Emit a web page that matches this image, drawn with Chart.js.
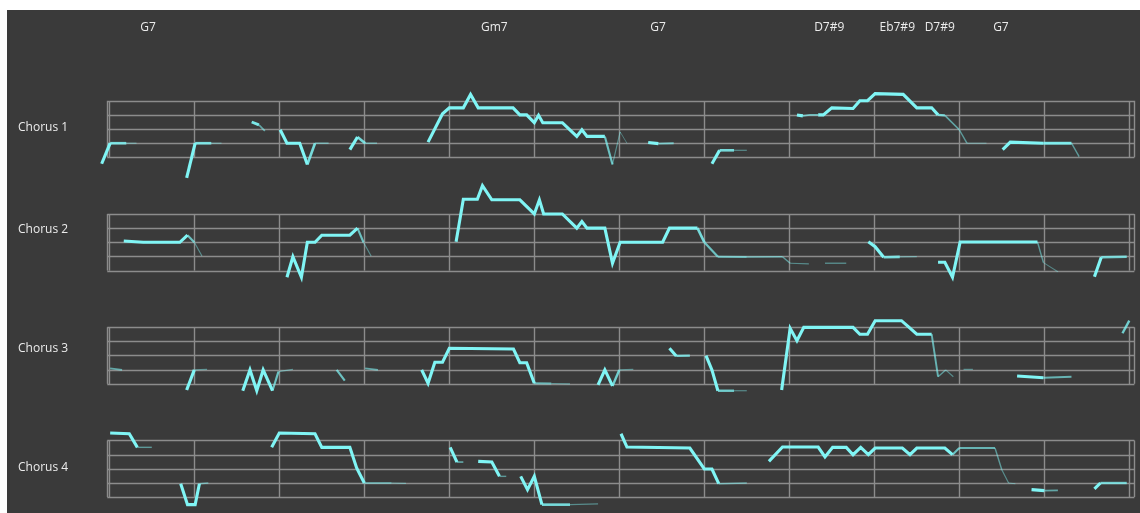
<!DOCTYPE html>
<html>
<head>
<meta charset="utf-8">
<script src="https://cdn.jsdelivr.net/npm/chart.js@4/dist/chart.umd.min.js"></script>
<style>
  html, body { margin: 0; background: #fff; }
  canvas { display: block; }
</style>
</head>
<body>
<canvas id="solo" width="1140" height="513"></canvas>
<script>
// Pitch contour of a 4-chorus solo, 12 bars per chorus.
// x = position in bars, y = pitch in staff steps above the bottom line, third value = loudness (0..1)
const rowNames = ['Chorus 1', 'Chorus 2', 'Chorus 3', 'Chorus 4'];
const chordNames = ['G7', 'Gm7', 'G7', 'D7#9', 'Eb7#9', 'D7#9', 'G7'];
const chordBars = [0.455, 4.53, 6.455, 8.47, 9.27, 9.77, 10.49];
const barCount = 12;
const staffSteps = [0, 1, 2, 3, 4];

const chorus1 = [
  [[-0.09,-0.45,1],[0.01,1,1],[0.2,1,0.8],[0.32,1,0.2]],
  [[0.91,-1.45,1],[1.01,1,1],[1.2,1,0.8],[1.32,1,0.2]],
  [[1.675,2.5,1],[1.76,2.3,0.9],[1.83,1.87,0.4]],
  [[2.01,1.95,1],[2.09,1,1],[2.24,1,1],[2.33,-0.5,1],[2.42,1,0.8],[2.58,1,0.3]],
  [[2.83,0.55,1],[2.92,1.44,1],[3.01,1,0.8],[3.15,1,0.3]],
  [[3.75,1.08,1],[3.92,3.08,1],[4.0,3.5,1],[4.165,3.5,1],[4.25,4.45,1],[4.34,3.5,1],[4.75,3.5,1],[4.83,3,1],[4.91,3,1],[5.0,2.45,1],[5.05,2.97,1],[5.1,2.45,1],[5.33,2.45,1],[5.5,1.48,1],[5.56,1.95,1],[5.62,1.48,1],[5.83,1.48,1],[5.92,-0.5,0.6],[6.01,1.8,0.2],[6.09,1,0.1]],
  [[6.34,1.05,1],[6.46,0.97,1],[6.64,1,0.5]],
  [[7.09,-0.45,1],[7.18,0.5,1],[7.35,0.5,0.8],[7.5,0.5,0.2]],
  [[8.09,3,1],[8.16,2.93,1],[8.24,3,0.5],[8.34,3,1],[8.4,3,1],[8.5,3.5,1],[8.75,3.45,1],[8.83,4,1],[8.92,4,1],[9.01,4.5,1],[9.34,4.45,1],[9.5,3.5,1],[9.675,3.5,1],[9.75,3,1],[9.83,2.97,0.7],[10.0,1.95,0.4],[10.09,1,0.3],[10.32,1,0.15]],
  [[10.51,0.55,1],[10.6,1.08,1],[10.99,1,1],[11.32,1,0.9],[11.41,0.05,0.3]]
];

const chorus2 = [
  [[0.17,2.09,1],[0.4,2,1],[0.83,2,1],[0.92,2.5,1],[1.0,2,0.6],[1.09,1.03,0.2]],
  [[2.09,-0.47,1],[2.16,0.98,1],[2.26,-0.47,1],[2.33,2,1],[2.42,2,1],[2.5,2.5,1],[2.83,2.5,1],[2.92,3,1],[2.99,2,0.6],[3.08,1.03,0.2]],
  [[4.08,2.04,1],[4.165,5.04,1],[4.33,5.04,1],[4.39,6,1],[4.5,5,1],[4.83,5,1],[5.0,4,1],[5.06,5,1],[5.11,4,1],[5.33,4,1],[5.5,3,1],[5.56,3.46,1],[5.62,3,1],[5.83,3,1],[5.92,0.52,1],[6.01,2,1],[6.51,2,1],[6.59,3,1],[6.92,3,1],[7.0,2,0.8],[7.16,0.98,0.6],[7.5,0.96,0.5],[7.92,0.98,0.4],[8.01,0.52,0.3],[8.23,0.47,0.2]],
  [[8.42,0.52,0.25],[8.67,0.52,0.25]],
  [[8.93,2.04,1],[9.01,1.69,1],[9.11,0.94,1],[9.3,0.97,0.8],[9.5,0.98,0.2]],
  [[9.75,0.59,1],[9.83,0.59,1],[9.92,-0.47,1],[10.01,2.02,1],[10.92,2.02,1],[10.99,0.56,0.3],[11.16,-0.08,0.15]],
  [[11.59,-0.43,1],[11.67,0.94,1],[11.97,0.98,0.7]]
];

const chorus3 = [
  [[0.01,1.09,1],[0.15,0.98,0.4]],
  [[0.91,-0.44,1],[1.0,0.98,1],[1.15,1.02,0.2]],
  [[1.57,-0.49,1],[1.655,0.98,1],[1.735,-0.49,1],[1.81,0.98,1],[1.92,-0.49,1],[1.99,0.86,0.6],[2.16,1.02,0.2]],
  [[2.675,0.98,1],[2.77,0.22,0.6]],
  [[3.01,1.09,1],[3.16,0.98,0.4]],
  [[3.675,0.98,1],[3.75,0.04,1],[3.83,1.52,1],[3.92,1.52,1],[4.0,2.51,1],[4.755,2.46,1],[4.83,1.49,1],[4.91,1.49,1],[5.0,0.04,1],[5.2,0.02,0.5],[5.42,0,0.2]],
  [[5.75,-0.08,1],[5.83,0.98,1],[5.92,-0.15,1],[6.0,0.98,0.7],[6.165,1.02,0.2]],
  [[6.59,2.51,1],[6.67,1.97,1],[6.83,1.99,0.7]],
  [[7.02,1.99,1],[7.09,0.98,1],[7.16,-0.49,1],[7.35,-0.49,0.7],[7.5,-0.49,0.2]],
  [[7.91,-0.44,1],[8.01,3.92,1],[8.09,3.05,1],[8.17,3.99,1],[8.75,3.99,1],[8.83,3.5,1],[8.92,3.5,1],[9.01,4.46,1],[9.32,4.46,1],[9.4,4.04,1],[9.5,3.5,1],[9.675,3.5,1],[9.75,0.5,0.5],[9.84,0.98,0.3],[9.93,0.5,0.2]],
  [[10.05,1.02,0.2],[10.16,1.02,0.2]],
  [[10.68,0.55,1],[10.99,0.43,1],[11.32,0.5,0.5]],
  [[11.92,3.57,1],[12.0,4.46,0.7]]
];

const chorus4 = [
  [[0.01,4.52,1],[0.235,4.47,1],[0.33,3.51,1],[0.5,3.51,0.3]],
  [[0.84,0.94,1],[0.92,-0.54,1],[1.01,-0.54,1],[1.06,0.94,1],[1.165,0.99,0.3]],
  [[1.91,3.51,1],[2.0,4.52,1],[2.42,4.47,1],[2.5,3.51,1],[2.83,3.51,1],[2.91,2.05,1],[3.0,0.99,1],[3.32,0.99,0.4],[3.49,0.96,0.2]],
  [[4.01,3.51,1],[4.09,2.47,1],[4.165,2.47,0.4]],
  [[4.34,2.52,1],[4.5,2.47,1],[4.59,1.46,1],[4.67,1.46,0.3]],
  [[4.84,1.46,1],[4.92,0.52,1],[5.0,1.46,1],[5.09,-0.54,1],[5.42,-0.54,0.8],[5.75,-0.49,0.2]],
  [[6.02,4.47,1],[6.09,3.53,1],[6.83,3.46,1],[7.0,1.98,1],[7.09,1.98,1],[7.17,0.94,1],[7.5,0.99,0.3]],
  [[7.76,2.52,1],[7.92,3.53,1],[8.34,3.53,1],[8.42,2.83,1],[8.51,3.51,1],[8.67,3.51,1],[8.75,2.99,1],[8.84,3.51,1],[8.93,2.99,1],[9.01,3.46,1],[9.33,3.46,1],[9.42,2.99,1],[9.5,3.46,1],[9.83,3.46,1],[9.92,2.99,1],[10.0,3.46,0.6],[10.42,3.46,0.5],[10.5,1.93,0.3],[10.58,0.99,0.2],[10.66,0.94,0.15]],
  [[10.85,0.52,1],[11.0,0.45,1],[11.16,0.47,0.4]],
  [[11.59,0.57,1],[11.66,0.99,1],[11.97,0.99,0.7]]
];

const choruses = [chorus1, chorus2, chorus3, chorus4];

// each chorus row sits 8 staff steps below the previous one
const ROW = 8;
const rowBase = i => (rowNames.length - 1 - i) * ROW;
const rowLabelStep = [2.1, 2.9, 2.5, 2.05];

function segWidth(a, b) { return 0.7 + 2.4 * Math.min(a, b); }
function segColor(a, b) {
  const l = Math.min(a, b);
  return `rgba(128,245,245,${(0.3 + 0.7 * l).toFixed(2)})`;
}

const datasets = [];
choruses.forEach((phrases, i) => {
  phrases.forEach(ph => {
    datasets.push({
      data: ph.map(p => ({ x: p[0], y: p[1] + rowBase(i) })),
      borderColor: '#80f5f5',
      borderWidth: 3,
      pointRadius: 0,
      tension: 0,
      borderJoinStyle: 'miter',
      segment: {
        borderWidth: ctx => segWidth(ph[ctx.p0DataIndex][2], ph[ctx.p1DataIndex][2]),
        borderColor: ctx => segColor(ph[ctx.p0DataIndex][2], ph[ctx.p1DataIndex][2])
      }
    });
  });
});

const staff = {
  id: 'staff',
  beforeDraw(chart) {
    const c = chart.ctx;
    c.save();
    c.fillStyle = '#3a3a3a';
    c.fillRect(7, 10, chart.width - 7, chart.height - 10);
    c.restore();
  },
  beforeDatasetsDraw(chart) {
    const { ctx: c, scales: { x, y } } = chart;
    c.save();
    c.strokeStyle = '#8c8c8c';
    c.lineWidth = 1.4;
    const left = x.getPixelForValue(-0.024), right = x.getPixelForValue(12.06);
    rowNames.forEach((_, i) => {
      const b = rowBase(i);
      const top = y.getPixelForValue(b + 4), bot = y.getPixelForValue(b);
      c.beginPath();
      staffSteps.forEach(s => {
        const py = Math.round(y.getPixelForValue(b + s)) + 0.5;
        c.moveTo(left, py); c.lineTo(right, py);
      });
      const bars = [-0.024];
      for (let m = 0; m <= barCount; m++) bars.push(m);
      bars.push(12.06);
      bars.forEach(m => {
        const px = Math.round(x.getPixelForValue(m)) + 0.5;
        c.moveTo(px, top); c.lineTo(px, bot);
      });
      c.stroke();
    });
    c.restore();
  },
  afterDraw(chart) {
    const { ctx: c, scales: { x, y } } = chart;
    c.save();
    c.font = '12px "Open Sans", "Noto Sans", sans-serif';
    c.fillStyle = '#ececec';
    c.textBaseline = 'middle';
    c.textAlign = 'center';
    chordNames.forEach((n, i) => c.fillText(n, x.getPixelForValue(chordBars[i]), 28));
    c.textAlign = 'left';
    rowNames.forEach((n, i) => c.fillText(n, 18, y.getPixelForValue(rowBase(i) + rowLabelStep[i])));
    c.restore();
  }
};

new Chart(document.getElementById('solo'), {
  type: 'line',
  data: { datasets },
  options: {
    responsive: false,
    animation: false,
    devicePixelRatio: 1,
    events: [],
    layout: { padding: 0 },
    plugins: { legend: { display: false }, tooltip: { enabled: false } },
    scales: {
      x: { type: 'linear', min: -1.286, max: 12.126, display: false },
      y: { type: 'linear', min: -1.13, max: 35.12, display: false }
    }
  },
  plugins: [staff]
});
</script>
</body>
</html>
